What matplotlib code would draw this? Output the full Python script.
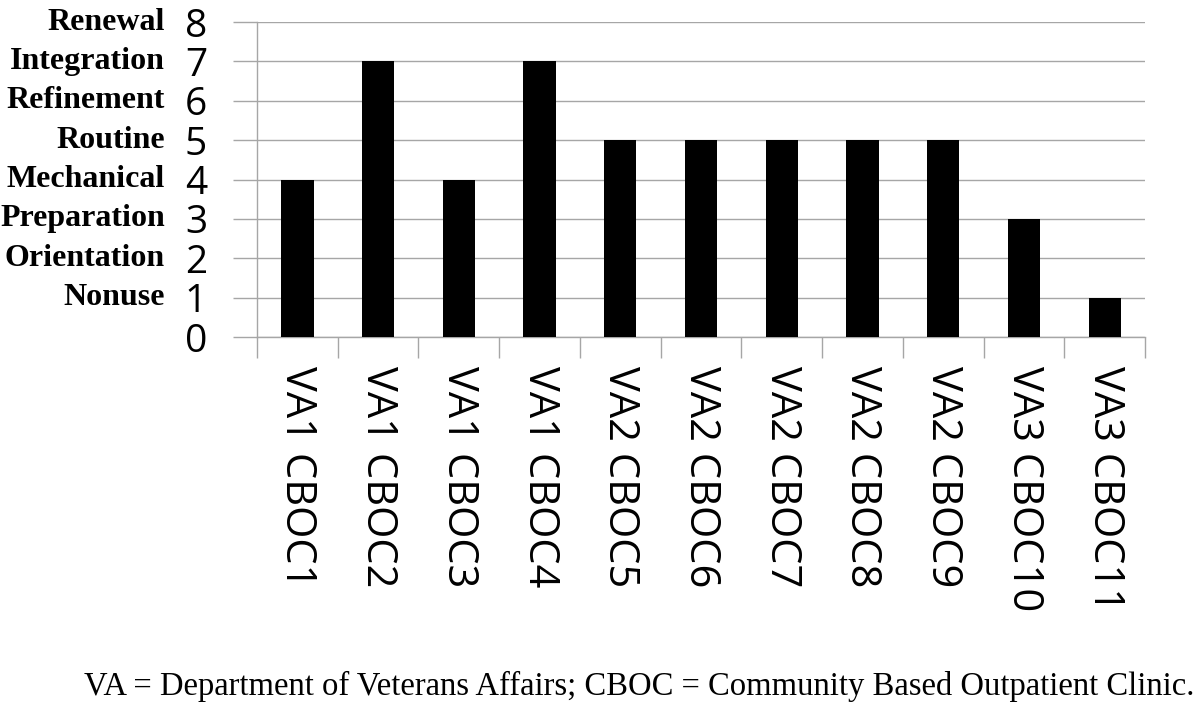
import matplotlib.pyplot as plt
import numpy as np

sites = ["VA1 CBOC1", "VA1 CBOC2", "VA1 CBOC3", "VA1 CBOC4", "VA2 CBOC5",
         "VA2 CBOC6", "VA2 CBOC7", "VA2 CBOC8", "VA2 CBOC9", "VA3 CBOC10",
         "VA3 CBOC11"]
levels = [4, 7, 4, 7, 5, 5, 5, 5, 5, 3, 1]
level_names = ["Nonuse", "Orientation", "Preparation", "Mechanical",
               "Routine", "Refinement", "Integration", "Renewal"]
yticks = list(range(0, 9))

GRID = "#a6a6a6"

fig = plt.figure(figsize=(12, 7.08), dpi=100)
ax = fig.add_axes([0.2142, 0.524, 0.74, 0.4449])

x = np.arange(len(sites))
ax.bar(x, levels, width=0.4, color="black", zorder=3)

ax.set_xlim(-0.5, len(sites) - 0.5)
ax.set_ylim(0, 8)
ax.set_yticks(yticks)
ax.set_yticklabels([str(v) for v in yticks], family="Open Sans", fontsize=28)
ax.tick_params(axis="y", length=17, color=GRID, width=1, pad=19)
ax.yaxis.grid(True, color=GRID, linewidth=1, zorder=0)

ax.set_xticks(x)
ax.set_xticklabels(sites, rotation=-90, family="Open Sans", fontsize=30)
ax.tick_params(axis="x", which="major", length=0, pad=21)
ax.set_xticks(np.arange(len(sites) + 1) - 0.5, minor=True)
ax.tick_params(axis="x", which="minor", length=15, color=GRID, width=1)

for side in ["top", "right"]:
    ax.spines[side].set_visible(False)
for side in ["left", "bottom"]:
    ax.spines[side].set_color(GRID)
    ax.spines[side].set_linewidth(1)

for v, name in zip(range(1, 9), level_names):
    ax.text(-0.1036, v, name, transform=ax.get_yaxis_transform(),
            ha="right", va="center", family="Liberation Serif",
            weight="bold", fontsize=23)

fig.text(0.533, 0.009, "VA = Department of Veterans Affairs; CBOC = Community Based Outpatient Clinic.",
         ha="center", va="bottom", family="Liberation Serif", fontsize=23.5)

fig.savefig("out.png", dpi=100)
